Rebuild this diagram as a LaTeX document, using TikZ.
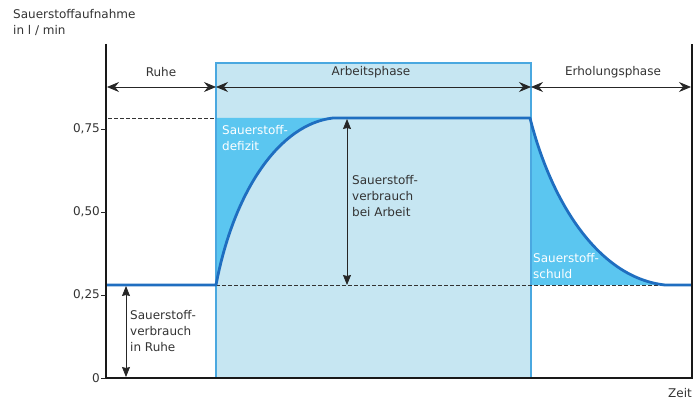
\documentclass[tikz,border=0pt]{standalone}
\usepackage{fontspec}
\setmainfont{DejaVu Sans}
\usetikzlibrary{arrows.meta}
\definecolor{lightbox}{HTML}{C6E6F2}
\definecolor{boxedge}{HTML}{4AA8E0}
\definecolor{darkfill}{HTML}{5BC6F0}
\definecolor{curvecol}{HTML}{1F6EC0}
\definecolor{txt}{HTML}{333333}
\tikzset{
  lbl/.style={font=\fontsize{12}{16}\selectfont, text=txt, inner sep=0pt},
  wlbl/.style={font=\fontsize{12}{16}\selectfont, text=white, inner sep=0pt, align=left},
  dimarrow/.style={draw=black!85, line width=0.8pt, {Stealth[length=12pt,width=10pt,inset=4pt]}-{Stealth[length=12pt,width=10pt,inset=4pt]}},
  vdim/.style={draw=black!85, line width=0.8pt, {Stealth[length=10pt,width=8pt,inset=1pt]}-{Stealth[length=10pt,width=8pt,inset=1pt]}},
  dashline/.style={draw=black!80, dash pattern=on 3.5pt off 2.5pt, line width=0.8pt},
  axisline/.style={draw=black!90, line width=2pt},
  curve/.style={draw=curvecol, line width=2.8pt}
}
\begin{document}
\begin{tikzpicture}[x=1pt,y=-1pt]
\useasboundingbox (0,0) rectangle (696,401);
% coordinates
\coordinate (O) at (106,378);
\coordinate (ytop) at (106,44);
\coordinate (xend) at (692,378);
\coordinate (rtop) at (692,44);
\coordinate (b1) at (216,63);
\coordinate (b2) at (531,378);
\coordinate (r0) at (106,285);
\coordinate (rs) at (216,285);
\coordinate (pk) at (333,118);
\coordinate (pe) at (530,118);
\coordinate (re) at (665,285);
\coordinate (rend) at (692,285);
% box
\fill[lightbox] (b1) rectangle (b2);
% fills
\fill[darkfill] (216,118) -- (pk) .. controls (280,124) and (234,190) .. (rs) -- cycle;
\fill[darkfill] (pe) .. controls (552,205) and (600,278) .. (re) -- (530,285) -- cycle;
\draw[boxedge, line width=1.3pt] (b1) rectangle (b2);
% dashed lines
\draw[dashline] (108,118) -- (216,118);
\draw[dashline] (rs) -- (re);
% curve
\draw[curve, line join=round] (r0) -- (rs) .. controls (234,190) and (280,124) .. (pk) -- (pe) .. controls (552,205) and (600,278) .. (re) -- (rend);
% axes
\draw[axisline] (ytop) -- (O) -- (xend) -- (rtop);
% ticks
\foreach \yy/\lab in {378/0, 295/{0,25}, 212/{0,50}, 129/{0,75}} {
  \draw[black!85, line width=0.9pt] (101,\yy) -- (106,\yy);
  \node[lbl, anchor=east] at (100,\yy) {\lab};
}
% phase arrows
\coordinate (p0) at (107,87);
\coordinate (p1) at (216,87);
\coordinate (p2) at (531,87);
\coordinate (p3) at (691,87);
\draw[dimarrow] (p0) -- (p1);
\draw[dimarrow] (p1) -- (p2);
\draw[dimarrow] (p2) -- (p3);
\node[lbl] (ruhe) at (161,72) {Ruhe};
\node[lbl] (arb) at (371,72) {Arbeitsphase};
\node[lbl] (erh) at (613,72) {Erholungsphase};
% vertical arrows
\coordinate (va1) at (347,119);
\coordinate (va2) at (347,285);
\draw[vdim] (va1) -- (va2);
\coordinate (vb1) at (126,286);
\coordinate (vb2) at (126,377);
\draw[vdim] (vb1) -- (vb2);
\node[lbl, anchor=north west, align=left] (t1) at (352,175) {Sauerstoff-\\verbrauch\\bei Arbeit};
\node[lbl, anchor=north west, align=left] (t2) at (130,310) {Sauerstoff-\\verbrauch\\in Ruhe};
\node[wlbl, anchor=north west] (t3) at (222,125) {Sauerstoff-\\defizit};
\node[wlbl, anchor=north west] (t4) at (533,253) {Sauerstoff-\\schuld};
% axis titles
\node[lbl, anchor=north west, align=left] (yt) at (13,9) {Sauerstoffaufnahme\\in l / min};
\node[lbl] (zeit) at (680,393) {Zeit};
\end{tikzpicture}
\end{document}
